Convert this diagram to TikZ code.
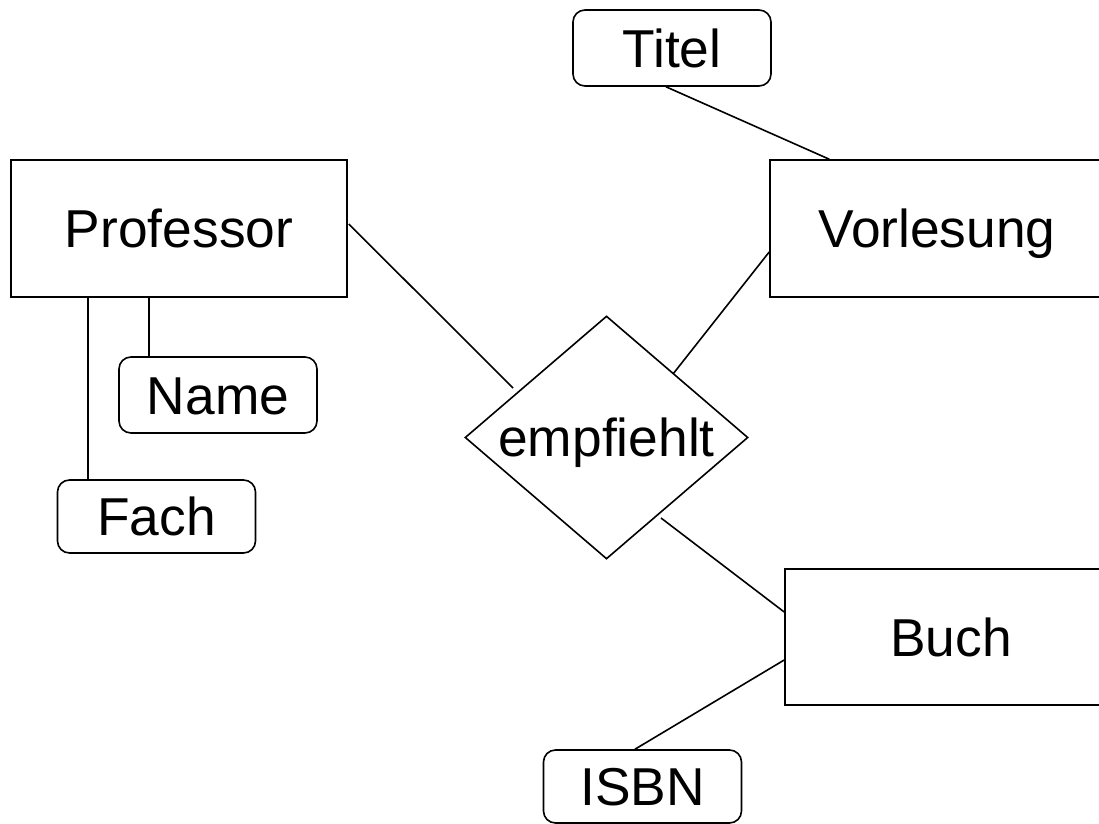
\documentclass[tikz,border=0pt]{standalone}
\usepackage{fontspec}
\setmainfont{Liberation Sans}
\usetikzlibrary{shapes.geometric,calc}
\begin{document}
\begin{tikzpicture}[x=0.75pt,y=-0.75pt,
  line width=1.2pt,
  every node/.style={font=\fontsize{40}{48}\selectfont, inner sep=0pt,
                     text height=28.6pt, text depth=0pt},
  entity/.style={draw, rectangle},
  attrib/.style={draw, rectangle, rounded corners=9pt,
                 minimum width=148.5pt, minimum height=57pt},
  relation/.style={draw, diamond, aspect=1.165,
                   minimum width=212.25pt, minimum height=182.25pt}]
  \clip (0,0) rectangle (1099,824);
  \fill[white] (0,0) rectangle (1099,824);

  % entities
  \node[entity, minimum width=252pt, minimum height=102.75pt] (prof) at (179,228.5) {Professor};
  \node[entity, minimum width=250.5pt, minimum height=102.75pt] (vorl) at (937,228.5) {Vorlesung};
  \node[entity, minimum width=249pt, minimum height=102pt] (buch) at (951,637) {Buch};

  % relationship
  \node[relation] (emp) at (606.5,437.5) {empfiehlt};

  % attributes
  \node[attrib] (titel) at (672,48) {Titel};
  \node[attrib] (name) at (218,395) {Name};
  \node[attrib, minimum height=54.75pt] (fach) at (156.5,516.5) {Fach};
  \node[attrib, minimum height=54.75pt] (isbn) at (642.5,786.5) {ISBN};

  % relationship lines
  \draw ($(prof.east)+(1,-4.5)$) -- ($(emp)+(-93.5,-49.5)$);
  \draw ($(vorl.west)+(0,23.5)$) -- ($(emp)+(66.5,-63.5)$);
  \draw ($(emp)+(54.5,80.5)$) -- ($(buch.west)+(0,-25)$);

  % attribute lines
  \draw ($(buch.west)+(0,23)$) -- ($(isbn.north)+(-7.5,0)$);
  \draw ($(titel.south)+(-6,0)$) -- ($(vorl.north west)+(60,0)$);
  \coordinate (nametop) at ($(name.north west)+(31,0)$);
  \coordinate (fachtop) at ($(fach.north west)+(31,0)$);
  \draw (nametop) -- (nametop |- prof.south);
  \draw (fachtop) -- (fachtop |- prof.south);
\end{tikzpicture}
\end{document}
